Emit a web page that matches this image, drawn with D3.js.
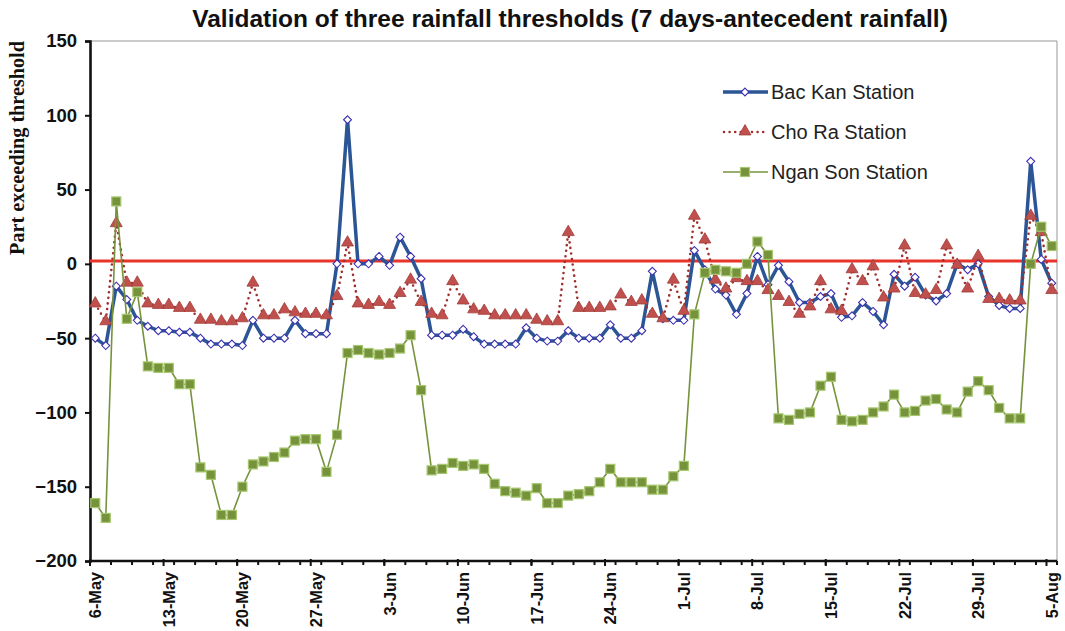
<!DOCTYPE html>
<html>
<head>
<meta charset="utf-8">
<script src="https://cdn.jsdelivr.net/npm/d3@7"></script>
<style>
  body { margin: 0; background: #fff; }
  text { font-family: Arial, 'Liberation Sans', sans-serif; }
</style>
</head>
<body>
<div id="grafica"></div>
<script>
// datos (92 dias, 6-May a 5-Aug)
bacKan = [-50, -55, -15, -24, -38, -42, -45, -45, -46, -46, -50, -54, -54, -54, -55, -38,
          -50, -50, -50, -38, -47, -47, -47, 0, 97, 0, 0, 5, -1, 18, 5,
          -10, -48, -48, -48, -44, -49, -54, -54, -54, -54, -43, -50, -52, -52, -45,
          -50, -50, -50, -41, -50, -50, -45, -5, -37, -38, -38, 9, -4, -17, -21,
          -34, -20, 5, -14, -1, -12, -26, -26, -22, -20, -36, -35, -26, -32, -41, -7,
          -15, -9, -21, -25, -20, 0, -4, 0, -22, -28, -30, -30, 69, 3, -13]

choRa = [-27, -39, 27, -13, -13, -27, -28, -28, -30, -30, -38, -38, -39, -39, -37, -13,
         -35, -35, -31, -33, -34, -34, -35, -22, 14, -27, -28, -26, -28, -20, -11,
         -26, -34, -35, -12, -25, -31, -32, -35, -35, -35, -35, -38, -39, -39, 21,
         -30, -30, -30, -29, -21, -26, -25, -34, -37, -11, -32, 32, 16, -11, -17,
         -10, -12, -12, -18, -22, -26, -34, -29, -12, -31, -32, -4, -12, -2, -23, -17,
         12, -20, -21, -18, 12, -1, -17, 5, -24, -24, -25, -25, 32, 21, -18]

nganSon = [-161, -171, 42, -37, -19, -69, -70, -70, -81, -81, -137, -142, -169, -169, -150, -135,
           -133, -130, -127, -119, -118, -118, -140, -115, -60, -58, -60, -61, -60, -57, -48,
           -85, -139, -138, -134, -136, -135, -138, -148, -153, -154, -156, -151, -161, -161, -156,
           -155, -153, -147, -138, -147, -147, -147, -152, -152, -143, -136, -34, -6, -4, -5,
           -6, 0, 15, 6, -104, -105, -101, -100, -82, -76, -105, -106, -105, -100, -96, -88,
           -100, -99, -92, -91, -98, -100, -86, -79, -85, -97, -104, -104, 0, 25, 12]

etiquetasX = ['6-May', '13-May', '20-May', '27-May', '3-Jun', '10-Jun', '17-Jun',
              '24-Jun', '1-Jul', '8-Jul', '15-Jul', '22-Jul', '29-Jul', '5-Aug']
ticksY = [150, 100, 50, 0, -50, -100, -150, -200]
umbral = 2
estaciones = ['Bac Kan Station', 'Cho Ra Station', 'Ngan Son Station']

dias = d3.timeDay.range(new Date(2013, 4, 6), new Date(2013, 7, 6))
formatoDia = d3.timeFormat('%-d-%b')

ancho_total = 1065
alto_total  = 631
margin = { left: 90, right: 8, top: 41, bottom: 70 }
ancho = ancho_total - margin.left - margin.right
alto  = alto_total - margin.top - margin.bottom

svg = d3
        .select('#grafica')
        .append('svg')
        .attr('width', ancho_total)
        .attr('height', alto_total)

g = svg
      .append('g')
      .attr('transform', `translate(${margin.left}, ${margin.top})`)

x = d3.scaleBand()
      .domain(dias.map(formatoDia))
      .range([0, ancho])
      .padding(0)
y = d3.scaleLinear()
      .domain([-200, 150])
      .range([alto, 0])

xc = (i) => x(formatoDia(dias[i])) + x.bandwidth() / 2

// titulo
svg
  .append('text')
  .attr('x', 570)
  .attr('y', 27)
  .attr('text-anchor', 'middle')
  .attr('font-size', '24.5px')
  .attr('font-weight', 'bold')
  .attr('fill', '#111')
  .text('Validation of three rainfall thresholds (7 days-antecedent rainfall)')

svg
  .append('text')
  .attr('transform', 'translate(24, 148) rotate(-90)')
  .attr('text-anchor', 'middle')
  .style('font-family', "'Liberation Serif', 'Times New Roman', serif")
  .attr('font-size', '20.2px')
  .attr('font-weight', 'bold')
  .attr('fill', '#111')
  .text('Part exceeding threshold')

// borde del area
g.append('line')
  .attr('x1', 0).attr('x2', ancho)
  .attr('y1', 0).attr('y2', 0)
  .attr('stroke', '#999').attr('stroke-width', 1)
g.append('line')
  .attr('x1', ancho).attr('x2', ancho)
  .attr('y1', 0).attr('y2', alto)
  .attr('stroke', '#999').attr('stroke-width', 1)

// eje Y
yGroup = g.append('g')
yGroup.call(d3.axisLeft(y).tickValues(ticksY).tickSize(5).tickPadding(8))
yGroup.select('.domain').attr('stroke', '#111').attr('stroke-width', 2.6)
yGroup.selectAll('.tick line').attr('stroke', '#111').attr('stroke-width', 2)
yGroup.selectAll('.tick text')
  .attr('font-size', '18.5px')
  .attr('font-weight', 'bold')
  .attr('fill', '#111')
  .style('font-family', 'Arial, sans-serif')

// eje X: marcas cada 2 dias y cada semana
xGroup = g.append('g').attr('transform', `translate(0, ${alto})`)
menores = d3.range(0, dias.length + 1, 2)
xGroup.selectAll('.menor')
  .data(menores)
  .enter()
  .append('line')
  .attr('x1', (k) => k * x.bandwidth())
  .attr('x2', (k) => k * x.bandwidth())
  .attr('y1', 0)
  .attr('y2', 4)
  .attr('stroke', '#111')
  .attr('stroke-width', 2)
xGroup.selectAll('.mayor')
  .data(etiquetasX)
  .enter()
  .append('line')
  .attr('x1', (d) => x(d))
  .attr('x2', (d) => x(d))
  .attr('y1', -2)
  .attr('y2', 5)
  .attr('stroke', '#111')
  .attr('stroke-width', 2)
xGroup.append('line')
  .attr('x1', -1).attr('x2', ancho)
  .attr('y1', 0).attr('y2', 0)
  .attr('stroke', '#111')
  .attr('stroke-width', 2.6)
xGroup.selectAll('.etiqueta')
  .data(etiquetasX)
  .enter()
  .append('text')
  .attr('transform', (d) => `translate(${x(d) + x.bandwidth() / 2 + 6}, 11) rotate(-90)`)
  .attr('text-anchor', 'end')
  .attr('font-size', '16.3px')
  .attr('font-weight', 'bold')
  .attr('fill', '#111')
  .text((d) => d)

// linea de umbral
g.append('line')
  .attr('x1', 0).attr('x2', ancho)
  .attr('y1', y(umbral)).attr('y2', y(umbral))
  .attr('stroke', '#e8342b')
  .attr('stroke-width', 3)

linea = d3.line()
          .x((d, i) => xc(i))
          .y((d) => y(d))

// Bac Kan
g.append('path')
  .datum(bacKan)
  .attr('d', linea)
  .attr('fill', 'none')
  .attr('stroke', '#2b5595')
  .attr('stroke-width', 3.5)
  .attr('stroke-linejoin', 'round')
g.selectAll('.bk')
  .data(bacKan)
  .enter()
  .append('path')
  .attr('d', d3.symbol(d3.symbolDiamond2, 40))
  .attr('transform', (d, i) => `translate(${xc(i)}, ${y(d)})`)
  .attr('fill', '#fff')
  .attr('stroke', '#3b30b0')
  .attr('stroke-width', 1.1)

// Cho Ra
g.append('path')
  .datum(choRa)
  .attr('d', linea)
  .attr('fill', 'none')
  .attr('stroke', '#9e2f2c')
  .attr('stroke-width', 2.6)
  .attr('stroke-linecap', 'round')
  .attr('stroke-dasharray', '0,5.6')
g.selectAll('.cr')
  .data(choRa)
  .enter()
  .append('path')
  .attr('d', d3.symbol(d3.symbolTriangle, 62))
  .attr('transform', (d, i) => `translate(${xc(i)}, ${y(d) - 0.5})`)
  .attr('fill', '#c0504d')
  .attr('stroke', '#a23c39')
  .attr('stroke-width', 0.8)

// Ngan Son
g.append('path')
  .datum(nganSon)
  .attr('d', linea)
  .attr('fill', 'none')
  .attr('stroke', '#76933c')
  .attr('stroke-width', 1.6)
g.selectAll('.ns')
  .data(nganSon)
  .enter()
  .append('rect')
  .attr('x', (d, i) => xc(i) - 4.5)
  .attr('y', (d) => y(d) - 4.5)
  .attr('width', 9)
  .attr('height', 9)
  .attr('fill', '#76933c')
  .attr('stroke', '#a6c76f')
  .attr('stroke-width', 1.2)

// leyenda
leyenda = svg.append('g').attr('transform', 'translate(723, 92)')
estaciones.forEach((c, i) => {
  ren = leyenda
          .append('g')
          .attr('transform', `translate(0, ${i * 40})`)

  if (i == 0) {
    ren.append('line').attr('x1', 0).attr('x2', 45)
      .attr('stroke', '#2b5595').attr('stroke-width', 3.5)
    ren.append('path').attr('d', d3.symbol(d3.symbolDiamond2, 40))
      .attr('transform', 'translate(22, 0)')
      .attr('fill', '#fff').attr('stroke', '#3b30b0').attr('stroke-width', 1.1)
  } else if (i == 1) {
    ren.append('line').attr('x1', 1).attr('x2', 45)
      .attr('stroke', '#9e2f2c').attr('stroke-width', 2.6)
      .attr('stroke-linecap', 'round').attr('stroke-dasharray', '0,5.6')
    ren.append('path').attr('d', d3.symbol(d3.symbolTriangle, 62))
      .attr('transform', 'translate(22, -0.5)')
      .attr('fill', '#c0504d').attr('stroke', '#a23c39').attr('stroke-width', 0.8)
  } else {
    ren.append('line').attr('x1', 0).attr('x2', 45)
      .attr('stroke', '#76933c').attr('stroke-width', 1.6)
    ren.append('rect').attr('x', 17.5).attr('y', -4.5).attr('width', 9).attr('height', 9)
      .attr('fill', '#76933c').attr('stroke', '#a6c76f').attr('stroke-width', 1.2)
  }

  ren
    .append('text')
    .attr('x', 48)
    .attr('y', 7)
    .attr('font-size', '20px')
    .attr('fill', '#222')
    .text(c)
})
</script>
</body>
</html>
